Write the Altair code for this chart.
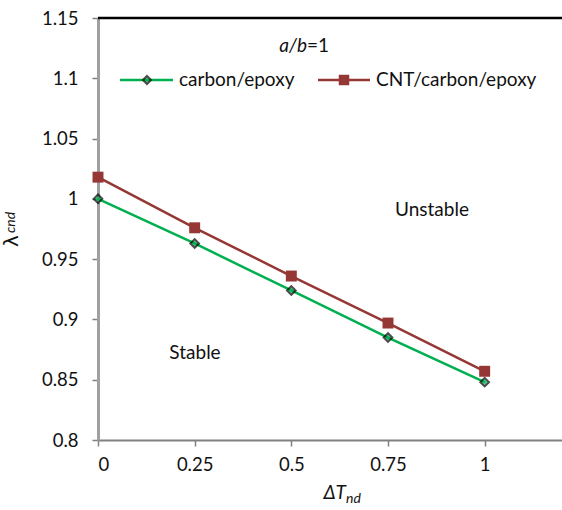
import altair as alt
import pandas as pd

dT = [0, 0.25, 0.5, 0.75, 1]
carbon = [1.0, 0.963, 0.924, 0.885, 0.848]
cnt = [1.018, 0.976, 0.936, 0.897, 0.857]
series_names = ["carbon/epoxy", "CNT/carbon/epoxy"]
colors = ["#00B050", "#953735"]
y_ticks = [0.8, 0.85, 0.9, 0.95, 1.0, 1.05, 1.1, 1.15]
x_ticks = [0, 0.25, 0.5, 0.75, 1]

rows = []
for x, a, b in zip(dT, carbon, cnt):
    rows.append({"dT": x, "lam": a, "series": series_names[0]})
    rows.append({"dT": x, "lam": b, "series": series_names[1]})
df = pd.DataFrame(rows)

FONT = "Lato"
TXT = "#111"
FS = 19
LFS = 18.5
xs = alt.Scale(domain=[0, 1.2], nice=False, zero=False)
ys = alt.Scale(domain=[0.8, 1.15], nice=False, zero=False)
cs = alt.Scale(domain=series_names, range=colors)

base = alt.Chart(df)

xax = alt.Axis(values=x_ticks, format=".2~f", grid=False, domainColor="#808080",
               domainWidth=2, tickColor="#808080", tickSize=6, tickWidth=1.5,
               labelFontSize=LFS, labelFont=FONT, labelColor=TXT, labelPadding=9,
               title=None)
yax = alt.Axis(values=y_ticks, format=".2~f", grid=False, domainColor="#A0A0A0",
               domainWidth=3, tickColor="#808080", tickSize=6, tickWidth=1.5,
               labelFontSize=LFS, labelFont=FONT, labelColor=TXT, labelPadding=14,
               title=None)

lines = base.mark_line(strokeWidth=2.5).encode(
    x=alt.X("dT:Q", scale=xs, axis=xax),
    y=alt.Y("lam:Q", scale=ys, axis=yax),
    color=alt.Color("series:N", scale=cs, legend=None),
    detail="series:N",
)

pts_c = base.transform_filter(alt.datum.series == series_names[0]).mark_point(
    shape="diamond", filled=True, size=75, fill="#00B050", stroke="black", strokeWidth=2
).encode(x=alt.X("dT:Q", scale=xs), y=alt.Y("lam:Q", scale=ys))

pts_n = base.transform_filter(alt.datum.series == series_names[1]).mark_point(
    shape="square", filled=True, size=120, color="#953735", opacity=1
).encode(x=alt.X("dT:Q", scale=xs), y=alt.Y("lam:Q", scale=ys))

top_rule = alt.Chart(pd.DataFrame({"y": [1.15]})).mark_rule(color="black", strokeWidth=2.5).encode(
    y=alt.Y("y:Q", scale=ys), x=alt.value(0), x2=alt.value(464)
)

# legend (custom)
leg_y = 62
leg1_line = alt.Chart(pd.DataFrame({"a": [0]})).mark_rule(color="#00B050", strokeWidth=2.5).encode(
    x=alt.value(22), x2=alt.value(75), y=alt.value(leg_y))
leg1_pt = alt.Chart(pd.DataFrame({"a": [0]})).mark_point(
    shape="diamond", filled=True, size=65, fill="#00B050", stroke="black", strokeWidth=2
).encode(x=alt.value(49), y=alt.value(leg_y))
leg1_txt = alt.Chart(pd.DataFrame({"t": [series_names[0]]})).mark_text(
    align="left", baseline="middle", fontSize=FS, font=FONT, color=TXT
).encode(x=alt.value(81), y=alt.value(leg_y), text="t:N")
leg2_line = alt.Chart(pd.DataFrame({"a": [0]})).mark_rule(color="#953735", strokeWidth=2.5).encode(
    x=alt.value(220), x2=alt.value(272), y=alt.value(leg_y))
leg2_pt = alt.Chart(pd.DataFrame({"a": [0]})).mark_point(
    shape="square", filled=True, size=110, color="#953735", opacity=1
).encode(x=alt.value(246), y=alt.value(leg_y))
leg2_txt = alt.Chart(pd.DataFrame({"t": [series_names[1]]})).mark_text(
    align="left", baseline="middle", fontSize=FS, font=FONT, color=TXT
).encode(x=alt.value(278), y=alt.value(leg_y), text="t:N")

# a/b=1 annotation
ab_a = alt.Chart(pd.DataFrame({"t": ["a/b"]})).mark_text(
    align="right", baseline="middle", fontSize=FS, font=FONT, fontStyle="italic", color=TXT
).encode(x=alt.value(209), y=alt.value(28), text="t:N")
ab_b = alt.Chart(pd.DataFrame({"t": ["=1"]})).mark_text(
    align="left", baseline="middle", fontSize=FS, font=FONT, color=TXT
).encode(x=alt.value(209), y=alt.value(28), text="t:N")

unstable = alt.Chart(pd.DataFrame({"t": ["Unstable"]})).mark_text(
    align="center", baseline="middle", fontSize=FS, font=FONT, color=TXT
).encode(x=alt.value(334), y=alt.value(192), text="t:N")
stable = alt.Chart(pd.DataFrame({"t": ["Stable"]})).mark_text(
    align="center", baseline="middle", fontSize=FS, font=FONT, color=TXT
).encode(x=alt.value(97), y=alt.value(335), text="t:N")

# axis titles
xt_main = alt.Chart(pd.DataFrame({"t": ["ΔT"]})).mark_text(
    align="right", baseline="alphabetic", fontSize=19, font=FONT, fontStyle="italic", color=TXT
).encode(x=alt.value(248), y=alt.value(481), text="t:N")
xt_sub = alt.Chart(pd.DataFrame({"t": ["nd"]})).mark_text(
    align="left", baseline="alphabetic", fontSize=14, font=FONT, fontStyle="italic", color=TXT
).encode(x=alt.value(248), y=alt.value(485), text="t:N")
yt_main = alt.Chart(pd.DataFrame({"t": ["λ"]})).mark_text(
    align="left", baseline="alphabetic", fontSize=20, font="DejaVu Sans", angle=270, color=TXT
).encode(x=alt.value(-80), y=alt.value(229), text="t:N")
yt_sub = alt.Chart(pd.DataFrame({"t": ["cnd"]})).mark_text(
    align="left", baseline="alphabetic", fontSize=14, font=FONT, fontStyle="italic", angle=270, color=TXT
).encode(x=alt.value(-83), y=alt.value(215), text="t:N")

chart = alt.layer(
    top_rule, lines, pts_c, pts_n,
    leg1_line, leg1_pt, leg1_txt, leg2_line, leg2_pt, leg2_txt,
    ab_a, ab_b, unstable, stable, xt_main, xt_sub, yt_main, yt_sub,
).properties(
    width=464, height=422,
    autosize=alt.AutoSizeParams(type="none"),
    padding={"left": 98, "top": 18, "right": 0, "bottom": 70},
).configure_view(stroke=None).configure(background="white")

chart.save("out.html", embed_options={"renderer": "svg", "actions": False})
